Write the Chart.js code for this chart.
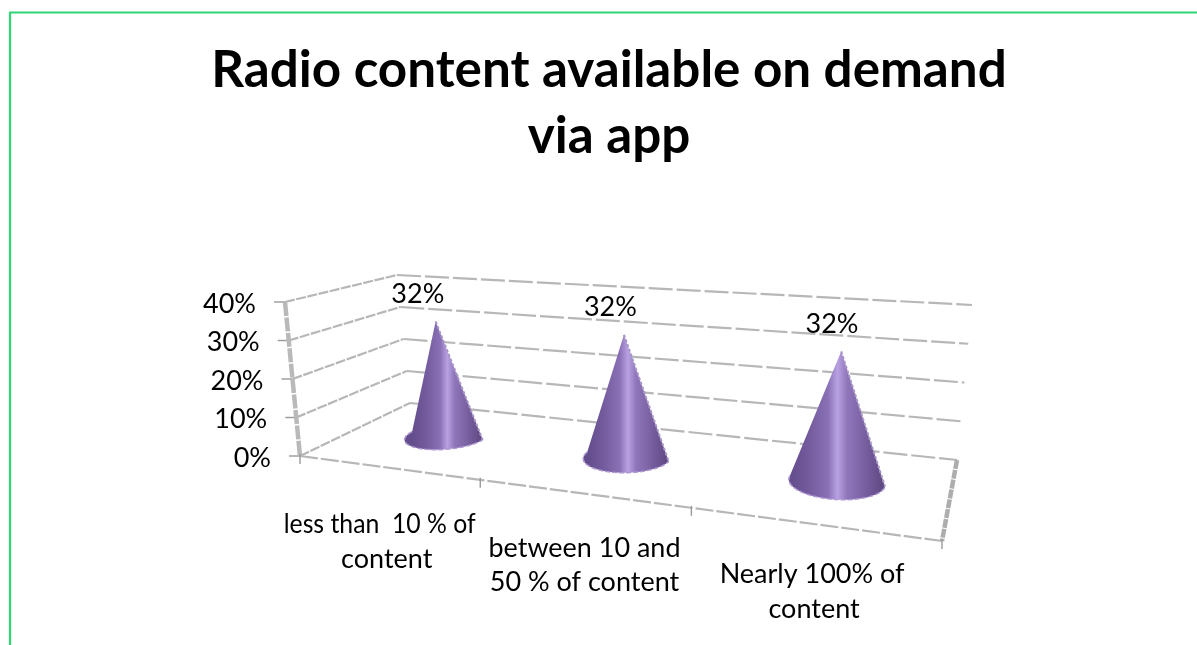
<!DOCTYPE html>
<html>
<head>
<meta charset="utf-8">
<style>html,body{margin:0;padding:0;background:#fff;overflow:hidden}#wrap{width:1197px;height:645px;position:relative}</style>
<script src="https://cdn.jsdelivr.net/npm/chart.js@4/dist/chart.umd.js"></script>
</head>
<body>
<div id="wrap"><canvas id="c" width="1197" height="645"></canvas></div>
<script>
// Chart content
const chartTitle = ["Radio content available on demand", "via app"];
const categories = [["less than  10 % of", "content"], ["between 10 and", "50 % of content"], ["Nearly 100% of", "content"]];
const shareValues = [32, 32, 32];
const axisMax = 40;
const axisStep = 10;

// Corners of the box floor in page pixels, and how far each corner rises at full axis height
const FLOOR = { fl: [300, 456], fr: [942, 541], br: [957, 460], bl: [410, 403] };
const RISE  = { fl: [-15, -154], fr: [16, -185], br: [15, -155], bl: [-13, -128] };
const FONT = "Lato, Carlito, sans-serif";
const TEXT_SIZE = 27;

// Maps the unit square onto a quadrilateral with a perspective transform
function homography(q) {
  const [x0, y0] = q.fl, [x1, y1] = q.fr, [x2, y2] = q.br, [x3, y3] = q.bl;
  const dx1 = x1 - x2, dy1 = y1 - y2, dx2 = x3 - x2, dy2 = y3 - y2;
  const sx = x0 - x1 + x2 - x3, sy = y0 - y1 + y2 - y3;
  const den = dx1 * dy2 - dx2 * dy1;
  const g = (sx * dy2 - dx2 * sy) / den, h = (dx1 * sy - sx * dy1) / den;
  const a = x1 - x0 + g * x1, b = x3 - x0 + h * x3;
  const d = y1 - y0 + g * y1, e = y3 - y0 + h * y3;
  return (u, w) => {
    const k = g * u + h * w + 1;
    return [(a * u + b * w + x0) / k, (d * u + e * w + y0) / k];
  };
}
const floorAt = homography(FLOOR);

// Projects category position u, depth w and axis fraction t into the page
function project(u, w, t) {
  const p = floorAt(u, w);
  const rise = c =>
    (1 - w) * ((1 - u) * RISE.fl[c] + u * RISE.fr[c]) + w * ((1 - u) * RISE.bl[c] + u * RISE.br[c]);
  return [p[0] + rise(0) * t, p[1] + rise(1) * t];
}

function strokePath(ctx, pts, color, width, dash) {
  ctx.save();
  ctx.strokeStyle = color;
  ctx.lineWidth = width;
  ctx.setLineDash(dash || []);
  ctx.lineCap = "butt";
  ctx.lineJoin = "round";
  ctx.beginPath();
  pts.forEach((p, i) => i ? ctx.lineTo(p[0], p[1]) : ctx.moveTo(p[0], p[1]));
  ctx.stroke();
  ctx.restore();
}

// The slide frame behind the chart
const framePlugin = {
  id: "frame",
  beforeDraw(chart) {
    const ctx = chart.ctx;
    ctx.save();
    ctx.fillStyle = "#fff";
    ctx.fillRect(0, 0, chart.width, chart.height);
    strokePath(ctx, [[10, 645], [10, 12.5], [1197, 12.5]], "#2ed573", 2.2);
    ctx.restore();
  }
};

// Draws the box walls, the tick marks and the axis labels in perspective
const boxPlugin = {
  id: "box",
  beforeDatasetsDraw(chart) {
    const ctx = chart.ctx, y = chart.scales.y, x = chart.scales.x;
    const h = y.getPixelForValue(y.min) - y.getPixelForValue(y.max);
    const gridColor = "#b7b7b7";
    y.ticks.forEach(tick => {
      const t = (y.getPixelForValue(y.min) - y.getPixelForValue(tick.value)) / h;
      const front = project(0, 0, t), back = project(0, 1, t), right = project(1, 1, t);
      strokePath(ctx, [front, back], gridColor, 2.2, [10, 1.5]);
      strokePath(ctx, [back, right], gridColor, 2.2, [24, 4]);
      strokePath(ctx, [[front[0] - 11, front[1]], front], "#9a9a9a", 1.4);
      ctx.save();
      ctx.font = TEXT_SIZE + "px " + FONT;
      ctx.fillStyle = "#000";
      ctx.textAlign = "right";
      ctx.textBaseline = "middle";
      ctx.fillText(tick.label, front[0] - 29, front[1] + 2);
      ctx.restore();
    });
    // Vertical axis, floor front edge and right floor edge
    strokePath(ctx, [project(0, 0, 1), project(0, 0, 0)], "#b9b9b9", 4.5, [14, 1.5]);
    strokePath(ctx, [project(0, 0, 0), project(1, 0, 0)], gridColor, 2.2, [18, 3]);
    strokePath(ctx, [project(1, 1, 0), project(1, 0, 0)], "#adadad", 4.5, [9, 1]);
    const n = categories.length;
    for (let i = 0; i <= n; i++) {
      const p = project(i / n, 0, 0);
      strokePath(ctx, [[p[0], p[1] - 2], [p[0], p[1] + 8]], "#9a9a9a", 1.4);
    }
    // Category labels hang below the sloped front edge, each line with its own small offset
    const lineShift = [[-7, 0], [3, 3], [1, 3]];
    const rowShift = [2, 0, -4];
    ctx.save();
    ctx.font = TEXT_SIZE + "px " + FONT;
    ctx.fillStyle = "#000";
    ctx.textAlign = "center";
    ctx.textBaseline = "middle";
    x.ticks.forEach((tick, i) => {
      const u = (x.getPixelForValue(i) - chart.chartArea.left) / chart.chartArea.width;
      const p = project(u, 0, 0);
      [].concat(tick.label).forEach((line, j) => {
        ctx.fillText(line, p[0] + lineShift[i][j], p[1] + 55 + rowShift[i] + j * 34.5, 192);
      });
    });
    ctx.restore();
  }
};

// Renders each bar of the dataset as a shaded cone standing on the floor
const conePlugin = {
  id: "cones",
  afterDatasetsDraw(chart) {
    const ctx = chart.ctx, area = chart.chartArea;
    const yScale = chart.scales.y;
    const bars = chart.getDatasetMeta(0).data;
    const rU = 0.07, rW = 0.23, depth = 0.52, baseShift = 4;
    bars.forEach((bar, i) => {
      const u = (bar.x - area.left) / area.width;
      const t = (yScale.getPixelForValue(yScale.min) - bar.y) / area.height;
      const tip = project(u, depth, t);
      const apex = [tip[0], tip[1] + 2];
      const rim = [];
      for (let k = 0; k <= 40; k++) {
        const a = Math.PI + Math.PI * k / 40;
        const p = project(u + rU * Math.cos(a), depth + rW * Math.sin(a), 0);
        rim.push([p[0] + baseShift, p[1]]);
      }
      const left = rim[0][0], right = rim[40][0];
      const g = ctx.createLinearGradient(left, 0, right, 0);
      g.addColorStop(0, "#644d8c");
      g.addColorStop(0.2, "#735b9d");
      g.addColorStop(0.4, "#8a71b6");
      g.addColorStop(0.5, "#b9a2e2");
      g.addColorStop(0.6, "#8f76bb");
      g.addColorStop(0.85, "#705897");
      g.addColorStop(1, "#5c477f");
      ctx.save();
      ctx.fillStyle = g;
      ctx.beginPath();
      ctx.moveTo(apex[0], apex[1]);
      rim.forEach(p => ctx.lineTo(p[0], p[1]));
      ctx.closePath();
      ctx.fill();
      ctx.restore();
      // Pale rim along the lit edge and the front of the base
      strokePath(ctx, [apex, rim[40]], "#a996c9", 2, [3, 2]);
      strokePath(ctx, rim, "#ad98d2", 1.5, [5, 2]);
      // Value label above the tip
      ctx.save();
      ctx.font = TEXT_SIZE + "px " + FONT;
      ctx.fillStyle = "#000";
      ctx.textAlign = "center";
      ctx.textBaseline = "middle";
      ctx.fillText(shareValues[i] + "%", apex[0] - 20 + 13 * u, apex[1] - 27);
      ctx.restore();
    });
  }
};

new Chart(document.getElementById("c"), {
  type: "bar",
  data: {
    labels: categories,
    datasets: [{ data: shareValues, backgroundColor: "rgba(0,0,0,0)", borderWidth: 0 }]
  },
  plugins: [framePlugin, boxPlugin, conePlugin],
  options: {
    responsive: false,
    animation: false,
    devicePixelRatio: 1,
    layout: { padding: { left: 21, right: 0, top: 0, bottom: 189 } },
    scales: {
      x: { display: false, offset: true },
      y: {
        display: false,
        min: 0,
        max: axisMax,
        ticks: { stepSize: axisStep, callback: v => v + "%" }
      }
    },
    plugins: {
      legend: { display: false },
      tooltip: { enabled: false },
      title: {
        display: true,
        text: chartTitle,
        color: "#000",
        font: { family: FONT, size: 51.2, weight: "bold", lineHeight: 1.3 },
        padding: { top: 37, bottom: 132 }
      }
    }
  }
});
</script>
</body>
</html>
